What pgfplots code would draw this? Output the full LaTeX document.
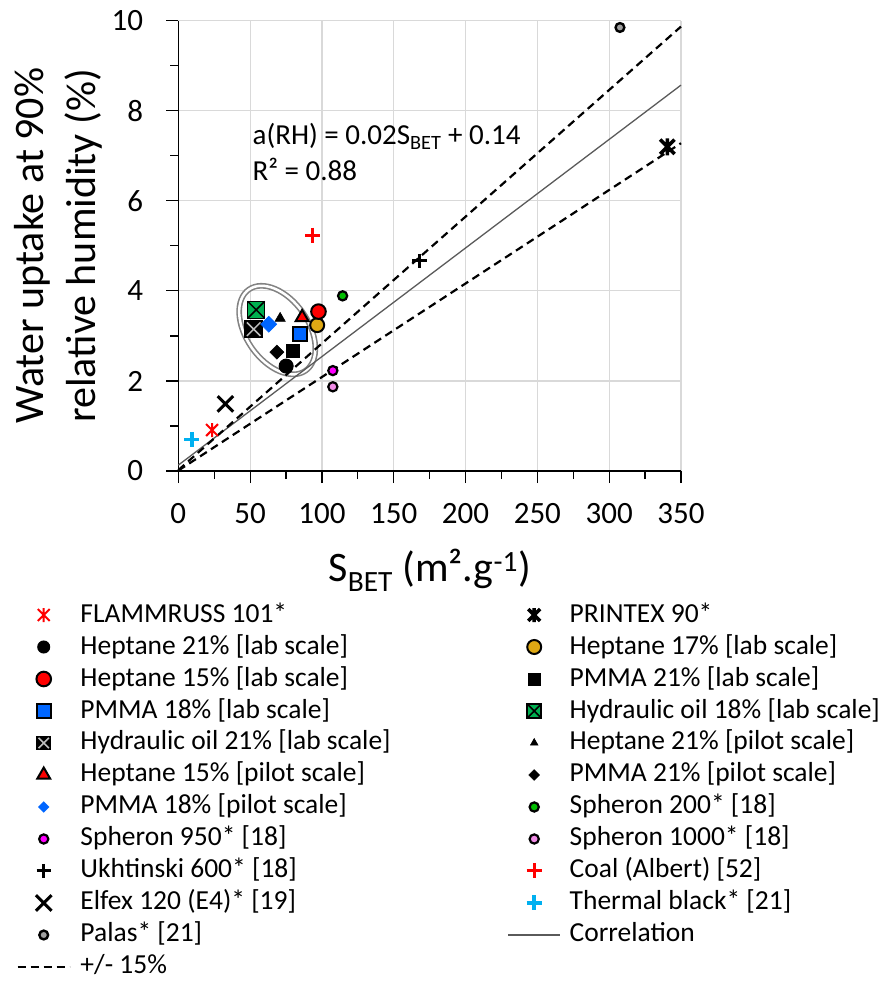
\documentclass[border=0pt]{standalone}
\usepackage{fontspec}
\setmainfont{Carlito}
\usepackage{pgfplots}
\pgfplotsset{compat=1.18}

\definecolor{cRed}{RGB}{255,0,0}
\definecolor{cGold}{RGB}{222,168,20}
\definecolor{cBlue}{RGB}{0,102,255}
\definecolor{cHO}{RGB}{0,176,80}
\definecolor{cGreen}{RGB}{0,190,0}
\definecolor{cMag}{RGB}{255,0,255}
\definecolor{cPink}{RGB}{240,140,230}
\definecolor{cPalas}{RGB}{160,160,160}
\definecolor{cCyan}{RGB}{0,176,240}
\definecolor{cCorr}{RGB}{90,90,90}
\definecolor{cGrid}{RGB}{217,217,217}
\definecolor{cEll}{RGB}{130,130,130}
\definecolor{hoX}{RGB}{190,190,190}

\pgfdeclareplotmark{sqx}{%
  \pgfpathrectangle{\pgfqpoint{-\pgfplotmarksize}{-\pgfplotmarksize}}{\pgfqpoint{2\pgfplotmarksize}{2\pgfplotmarksize}}%
  \pgfusepathqfillstroke
  \pgfpathmoveto{\pgfqpoint{-\pgfplotmarksize}{-\pgfplotmarksize}}%
  \pgfpathlineto{\pgfqpoint{\pgfplotmarksize}{\pgfplotmarksize}}%
  \pgfpathmoveto{\pgfqpoint{-\pgfplotmarksize}{\pgfplotmarksize}}%
  \pgfpathlineto{\pgfqpoint{\pgfplotmarksize}{-\pgfplotmarksize}}%
  \pgfusepathqstroke}
\pgfdeclareplotmark{sqxw}{%
  \pgfpathrectangle{\pgfqpoint{-\pgfplotmarksize}{-\pgfplotmarksize}}{\pgfqpoint{2\pgfplotmarksize}{2\pgfplotmarksize}}%
  \pgfusepathqfillstroke
  \pgfsetstrokecolor{hoX}%
  \pgfpathmoveto{\pgfqpoint{-0.8\pgfplotmarksize}{-0.8\pgfplotmarksize}}%
  \pgfpathlineto{\pgfqpoint{0.8\pgfplotmarksize}{0.8\pgfplotmarksize}}%
  \pgfpathmoveto{\pgfqpoint{-0.8\pgfplotmarksize}{0.8\pgfplotmarksize}}%
  \pgfpathlineto{\pgfqpoint{0.8\pgfplotmarksize}{-0.8\pgfplotmarksize}}%
  \pgfusepathqstroke}
\pgfdeclareplotmark{xstar}{%
  \pgfpathmoveto{\pgfqpoint{0pt}{-\pgfplotmarksize}}%
  \pgfpathlineto{\pgfqpoint{0pt}{\pgfplotmarksize}}%
  \pgfpathmoveto{\pgfqpoint{-0.85\pgfplotmarksize}{-0.85\pgfplotmarksize}}%
  \pgfpathlineto{\pgfqpoint{0.85\pgfplotmarksize}{0.85\pgfplotmarksize}}%
  \pgfpathmoveto{\pgfqpoint{-0.85\pgfplotmarksize}{0.85\pgfplotmarksize}}%
  \pgfpathlineto{\pgfqpoint{0.85\pgfplotmarksize}{-0.85\pgfplotmarksize}}%
  \pgfusepathqstroke}

\pgfplotsset{
  mk/.style={only marks, legend image code/.code={\path (0pt,0pt) (52pt,0pt); \draw[##1] plot coordinates {(26pt,0pt)};}},
  lineimg/.style={legend image code/.code={\draw[##1] (0pt,0pt) -- (52pt,0pt);}},
}

\begin{document}
\begin{tikzpicture}
\begin{axis}[
  scale only axis, width=502.7pt, height=450.3pt,
  xmin=0, xmax=350, ymin=0, ymax=10,
  axis lines=left, axis line style={-, black, line width=1.2pt},
  xtick={0,50,...,350}, ytick={0,2,...,10},
  minor x tick num=1, minor y tick num=1,
  tick align=outside, major tick length=12pt, minor tick length=8pt,
  tick style={black, line width=1.2pt},
  grid=major, major grid style={draw=cGrid, line width=1.2pt},
  /pgf/number format/assume math mode=true,
  tick label style={font=\fontsize{31}{31}\selectfont},
  xticklabel style={anchor=north, inner sep=0pt, yshift=-20pt},
  yticklabel style={anchor=east, inner sep=0pt, xshift=-23pt},
  xlabel={S\textsubscript{BET} (m².g\textsuperscript{-1})},
  xlabel style={font=\fontsize{42}{50}\selectfont, at={(axis description cs:0.5,-0.2443)}, anchor=base, inner sep=0pt},
  ylabel={Water uptake at 90\%\\relative humidity (\%)},
  ylabel style={font=\fontsize{42}{52}\selectfont, align=center, at={(axis description cs:-0.238,0.5)}, anchor=center, inner sep=0pt},
  clip=false,
  legend columns=2, legend cell align=left,
  legend style={at={(axis description cs:-0.3209,-0.2909)}, anchor=north west, draw=none, fill=none,
    inner sep=0pt, outer sep=0pt, font=\fontsize{27.5}{33}\selectfont,
    nodes={inner sep=0pt, text height=20pt, text depth=6pt}, row sep=6pt,
    /tikz/column 1/.style={column sep=10pt}, /tikz/column 2/.style={column sep=116pt},
    /tikz/column 3/.style={column sep=8pt}},
]
% ellipse around the cluster
\draw[rotate around={-55:(axis cs:68.9,3.13)}, draw=cEll, line width=1.6pt, double=white, double distance=2.5pt]
  (axis cs:68.9,3.13) ellipse [x radius=49.5pt, y radius=31pt];
% lines
\addplot[forget plot, draw=cCorr, line width=1.3pt] coordinates {(0,0.13) (350,8.57)};
\addplot[forget plot, draw=black, line width=2.2pt, dash pattern=on 8pt off 5pt] coordinates {(0,0.02) (350,9.87)};
\addplot[forget plot, draw=black, line width=2.2pt, dash pattern=on 8pt off 5pt] coordinates {(0,0.01) (350,7.28)};

\addplot[mk, mark=xstar, mark size=7pt, mark options={draw=cRed, line width=2pt}] coordinates {(23.5,0.91)};
\addlegendentry{FLAMMRUSS 101*}
\addplot[mk, mark=xstar, mark size=8.5pt, mark options={draw=black, line width=3.5pt}, legend image post style={mark size=7pt, line width=3pt}] coordinates {(340.5,7.2)};
\addlegendentry{PRINTEX 90*}
\addplot[mk, mark=*, mark size=7pt, mark options={draw=black, fill=black, line width=1pt}, legend image post style={mark size=6pt}] coordinates {(75.1,2.33)};
\addlegendentry{Heptane 21\% [lab scale]}
\addplot[mk, mark=*, mark size=7pt, mark options={draw=black, fill=cGold, line width=2pt}] coordinates {(96.7,3.24)};
\addlegendentry{Heptane 17\% [lab scale]}
\addplot[mk, mark=*, mark size=7.3pt, mark options={draw=black, fill=cRed, line width=2pt}] coordinates {(97.6,3.54)};
\addlegendentry{Heptane 15\% [lab scale]}
\addplot[mk, mark=square*, mark size=6.5pt, mark options={draw=black, fill=black, line width=0.5pt}, legend image post style={mark size=6pt}] coordinates {(79.5,2.66)};
\addlegendentry{PMMA 21\% [lab scale]}
\addplot[mk, mark=square*, mark size=7pt, mark options={draw=black, fill=cBlue, line width=2pt}] coordinates {(84.4,3.04)};
\addlegendentry{PMMA 18\% [lab scale]}
\addplot[mk, mark=sqx, mark size=8.5pt, mark options={draw=black, fill=cHO, line width=1.5pt}, legend image post style={mark size=7pt}] coordinates {(54.2,3.58)};
\addlegendentry{Hydraulic oil 18\% [lab scale]}
\addplot[mk, mark=sqxw, mark size=8.5pt, mark options={draw=black, fill=black, line width=1.5pt}, legend image post style={mark size=6.5pt}] coordinates {(52.5,3.15)};
\addlegendentry{Hydraulic oil 21\% [lab scale]}
\addplot[mk, mark=triangle*, mark size=6pt, mark options={draw=black, fill=black, line width=0.5pt}, legend image post style={mark size=4.5pt}] coordinates {(70.9,3.39)};
\addlegendentry{Heptane 21\% [pilot scale]}
\addplot[mk, mark=triangle*, mark size=7.5pt, mark options={draw=black, fill=cRed, line width=2pt}] coordinates {(86.2,3.41)};
\addlegendentry{Heptane 15\% [pilot scale]}
\addplot[mk, mark=square*, mark size=5pt, mark options={rotate=45, draw=black, fill=black, line width=0.5pt}, legend image post style={mark size=3.8pt}] coordinates {(68.6,2.64)};
\addlegendentry{PMMA 21\% [pilot scale]}
\addplot[mk, mark=square*, mark size=5.7pt, mark options={rotate=45, draw=cBlue, fill=cBlue, line width=0.5pt}, legend image post style={mark size=3.8pt}] coordinates {(63.0,3.26)};
\addlegendentry{PMMA 18\% [pilot scale]}
\addplot[mk, mark=*, mark size=4.6pt, mark options={draw=black, fill=cGreen, line width=2.2pt}] coordinates {(114.4,3.89)};
\addlegendentry{Spheron 200* [18]}
\addplot[mk, mark=*, mark size=4.6pt, mark options={draw=black, fill=cMag, line width=2.2pt}] coordinates {(107.6,2.23)};
\addlegendentry{Spheron 950* [18]}
\addplot[mk, mark=*, mark size=4.6pt, mark options={draw=black, fill=cPink, line width=2.2pt}] coordinates {(107.6,1.87)};
\addlegendentry{Spheron 1000* [18]}
\addplot[mk, mark=+, mark size=7.2pt, mark options={draw=black, line width=3pt}] coordinates {(168,4.67)};
\addlegendentry{Ukhtinski 600* [18]}
\addplot[mk, mark=+, mark size=7.5pt, mark options={draw=cRed, line width=3pt}] coordinates {(93.7,5.24)};
\addlegendentry{Coal (Albert) [52]}
\addplot[mk, mark=x, mark size=11pt, mark options={draw=black, line width=3pt}] coordinates {(32.8,1.49)};
\addlegendentry{Elfex 120 (E4)* [19]}
\addplot[mk, mark=+, mark size=7.5pt, mark options={draw=cCyan, line width=3.5pt}] coordinates {(9.5,0.70)};
\addlegendentry{Thermal black* [21]}
\addplot[mk, mark=*, mark size=4.4pt, mark options={draw=black, fill=cPalas, line width=2.4pt}] coordinates {(307.5,9.85)};
\addlegendentry{Palas* [21]}
\addlegendimage{lineimg, draw=cCorr, line width=1.3pt}
\addlegendentry{Correlation}
\addlegendimage{lineimg, draw=black, line width=1.5pt, dash pattern=on 8pt off 5pt}
\addlegendentry{+/- 15\%}

\node[anchor=base west, inner sep=0pt, font=\fontsize{29}{35}\selectfont] at (axis cs:51.6,7.24) {a(RH) = 0.02S\textsubscript{BET} + 0.14};
\node[anchor=base west, inner sep=0pt, font=\fontsize{29}{35}\selectfont] at (axis cs:51.6,6.46) {R² = 0.88};

\coordinate (bbSW) at (axis description cs:-0.3547,-1.1326);
\coordinate (bbNE) at (axis description cs:1.4058,1.0460);
\end{axis}
\pgfresetboundingbox
\path[use as bounding box] (bbSW) rectangle (bbNE);
\end{tikzpicture}
\end{document}
